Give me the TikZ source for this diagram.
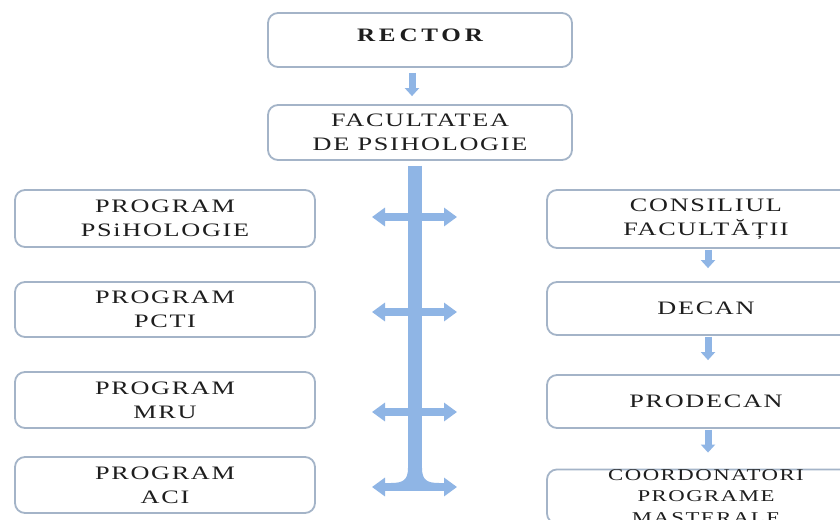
\documentclass[tikz,border=0pt]{standalone}
\usepackage{fontspec}
\setmainfont{Liberation Serif}[FakeStretch=1.38,LetterSpace=9]
\newfontfamily\rectorfont{Liberation Serif}[FakeStretch=1.32,LetterSpace=20]
\usetikzlibrary{arrows.meta}
\definecolor{boxline}{HTML}{A4B4C8}
\definecolor{arrowblue}{HTML}{8FB5E5}
\definecolor{txt}{HTML}{1E1E1E}
\begin{document}
\begin{tikzpicture}[x=1pt,y=-1pt,
  orgbox/.style={draw=boxline, line width=1.8pt, rounded corners=10pt, fill=white,
    text=txt, align=center, inner sep=0pt, font=\fontsize{19}{24}\selectfont},
  leftbox/.style={orgbox, minimum width=300pt},
  rightbox/.style={orgbox, minimum width=318pt, minimum height=53pt},
  smallarrow/.style={draw=arrowblue, line width=7pt, -{Triangle[length=8pt,width=14pt]}},
  mainbar/.style={draw=arrowblue, line width=14pt},
  twoway/.style={draw=arrowblue, line width=8pt,
    {Triangle[length=13pt,width=18pt]}-{Triangle[length=13pt,width=18pt]}}
]
\useasboundingbox (0,0) rectangle (840,519);
\clip (0,0) rectangle (840,519);
\fill[white] (0,0) rectangle (840,519);

% top boxes
\node[orgbox, minimum width=304pt, minimum height=54pt, text depth=10pt] (rector) at (420,40)
  {\rectorfont\bfseries\fontsize{19}{24}\selectfont RECTOR};
\node[orgbox, minimum width=304pt, minimum height=55pt] (fac) at (420,132.5)
  {FACULTATEA\\DE PSIHOLOGIE};

% left boxes
\node[leftbox, minimum height=57pt] (psi) at (165,218.5) {PROGRAM\\PSiHOLOGIE};
\node[leftbox, minimum height=55pt] (pcti) at (165,309.5) {PROGRAM\\PCTI};
\node[leftbox, minimum height=56pt] (mru) at (165,400) {PROGRAM\\MRU};
\node[leftbox, minimum height=56pt] (aci) at (165,485) {PROGRAM\\ACI};

% right boxes
\node[rightbox, minimum height=58pt] (cons) at (706,219) {CONSILIUL\\FACULTĂȚII};
\node[rightbox] (decan) at (706,308.5) {DECAN};
\node[rightbox] (prodecan) at (706,401.5) {PRODECAN};
\node[rightbox, font=\fontsize{16.5}{21.5}\selectfont] (coord) at (706,496.5)
  {COORDONATORI\\PROGRAME\\MASTERALE};

% rector -> faculty
\draw[smallarrow, shorten <=5pt, shorten >=8pt]
  ([xshift=-8pt]rector.south) -- ([xshift=-8pt]fac.north);

% main vertical bar
\coordinate (barbot) at (415,487);
\draw[mainbar, shorten <=5pt] ([xshift=-5pt]fac.south) -- (barbot);
\fill[arrowblue] (408,468) .. controls (408,480) and (403,483) .. (391,483)
  -- (439,483) .. controls (427,483) and (422,480) .. (422,468) -- cycle;

% two-way arrows
\coordinate (l1) at (372,217); \coordinate (r1) at (457,217);
\coordinate (l2) at (372,312); \coordinate (r2) at (457,312);
\coordinate (l3) at (372,412); \coordinate (r3) at (457,412);
\coordinate (l4) at (372,487); \coordinate (r4) at (457,487);
\draw[twoway] (l1) -- (r1);
\draw[twoway] (l2) -- (r2);
\draw[twoway] (l3) -- (r3);
\draw[twoway] (l4) -- (r4);

% right chain
\draw[smallarrow, shorten <=1pt, shorten >=13pt]
  ([xshift=2pt]cons.south) -- ([xshift=2pt]decan.north);
\draw[smallarrow, shorten <=1pt, shorten >=14pt]
  ([xshift=2pt]decan.south) -- ([xshift=2pt]prodecan.north);
\draw[smallarrow, shorten <=1pt, shorten >=16pt]
  ([xshift=2pt]prodecan.south) -- ([xshift=2pt]coord.north);
\end{tikzpicture}
\end{document}
